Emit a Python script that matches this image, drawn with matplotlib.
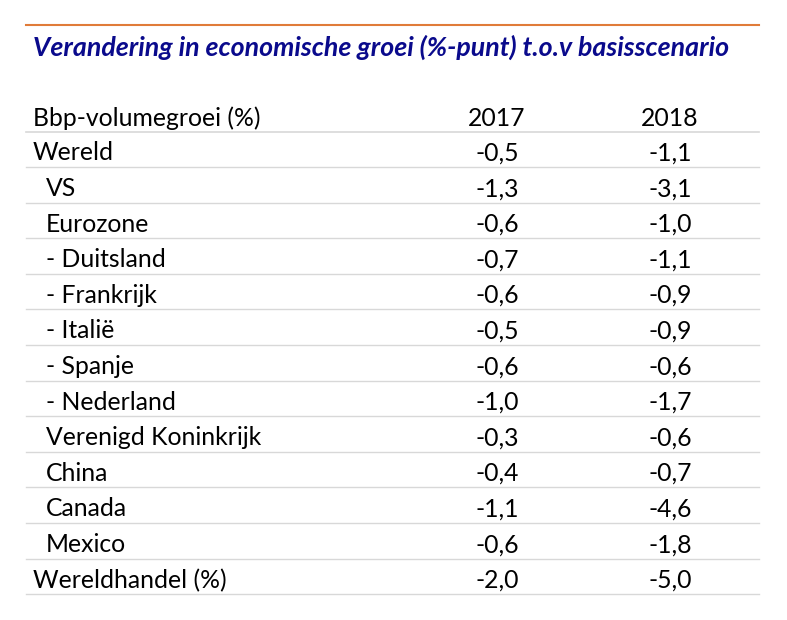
import matplotlib
matplotlib.use("Agg")
import matplotlib.pyplot as plt

title = "Verandering in economische groei (%-punt) t.o.v basisscenario"
header = ["Bbp-volumegroei (%)", "2017", "2018"]
labels = ["Wereld", "VS", "Eurozone", "- Duitsland", "- Frankrijk", "- Italië", "- Spanje",
          "- Nederland", "Verenigd Koninkrijk", "China", "Canada", "Mexico", "Wereldhandel (%)"]
indent = [0, 1, 1, 1, 1, 1, 1, 1, 1, 1, 1, 1, 0]
v2017 = ["-0,5", "-1,3", "-0,6", "-0,7", "-0,6", "-0,5", "-0,6", "-1,0", "-0,3", "-0,4", "-1,1", "-0,6", "-2,0"]
v2018 = ["-1,1", "-3,1", "-1,0", "-1,1", "-0,9", "-0,9", "-0,6", "-1,7", "-0,6", "-0,7", "-4,6", "-1,8", "-5,0"]

W, H = 787, 620
fig = plt.figure(figsize=(W/100, H/100), dpi=100)
ax = fig.add_axes([0, 0, 1, 1])
ax.set_xlim(0, W); ax.set_ylim(H, 0); ax.axis("off")
font = "Lato"
fs = 17.8
ax.plot([26, 759], [25, 25], color="#E07B39", lw=1.5)
ax.text(33, 47, title, fontsize=19.3, fontweight="bold", fontstyle="italic",
        color="#0A0A8C", va="center", family=font)
ax.text(33, 118, header[0], fontsize=fs, va="center", family=font)
ax.text(497, 118, header[1], fontsize=fs, va="center", ha="center", family=font)
ax.text(670, 118, header[2], fontsize=fs, va="center", ha="center", family=font)
ax.plot([26, 759], [131.5, 131.5], color="#D8D8D8", lw=1.2)
step = 35.6
for i, lab in enumerate(labels):
    y = 153 + i * step
    ax.text(33 + 13 * indent[i], y, lab, fontsize=fs, va="center", family=font)
    ax.text(497, y, v2017[i], fontsize=fs, va="center", ha="center", family=font)
    ax.text(670, y, v2018[i], fontsize=fs, va="center", ha="center", family=font)
    yl = y + 14
    ax.plot([26, 759], [yl, yl], color="#D8D8D8", lw=1.0)
fig.savefig("out.png", dpi=100)
